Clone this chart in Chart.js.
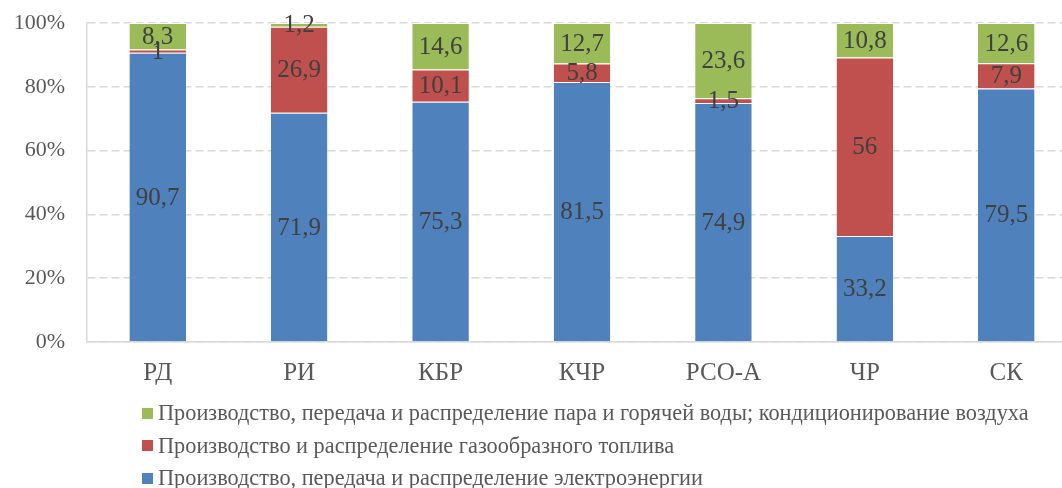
<!DOCTYPE html>
<html><head><meta charset="utf-8">
<script src="https://cdn.jsdelivr.net/npm/chart.js@4.4.0/dist/chart.umd.min.js"></script>
<style>
html,body{margin:0;padding:0;background:#fff;overflow:hidden;width:1062px;height:488px;}
#wrap{position:relative;width:1077px;height:488px;}
#legend{position:absolute;left:142px;top:397px;font-family:"Liberation Serif","Times New Roman",serif;font-size:22.3px;color:#595959;line-height:32.5px;}
#legend .it{display:flex;align-items:center;white-space:nowrap;}
#legend .sw{width:11px;height:11px;margin-right:5px;display:inline-block;}
</style></head>
<body>
<div id="wrap"><canvas id="c" width="1077" height="488"></canvas>
<div id="legend"></div></div>
<script>
const categories = ["РД","РИ","КБР","КЧР","РСО-А","ЧР","СК"];
const electricity = [90.7, 71.9, 75.3, 81.5, 74.9, 33.2, 79.5];
const gas = [1, 26.9, 10.1, 5.8, 1.5, 56, 7.9];
const steam = [8.3, 1.2, 14.6, 12.7, 23.6, 10.8, 12.6];
const seriesNames = [
  "Производство, передача и распределение электроэнергии",
  "Производство и распределение газообразного топлива",
  "Производство, передача и распределение пара и горячей воды; кондиционирование воздуха"
];
const yTicks = ["0%","20%","40%","60%","80%","100%"];
const colors = ["#4f81bd","#c0504d","#9bbb59"];
const FONT = '"Liberation Serif","Times New Roman",serif';

const labelPlugin = {
  id:'segLabels',
  afterDatasetsDraw(chart){
    const ctx = chart.ctx;
    ctx.save();
    ctx.font = '25px ' + FONT;
    ctx.fillStyle = '#404040';
    ctx.textAlign = 'center';
    ctx.textBaseline = 'middle';
    chart.data.datasets.forEach((ds, di) => {
      const meta = chart.getDatasetMeta(di);
      meta.data.forEach((bar, i) => {
        const v = ds.data[i];
        const y = (bar.y + bar.base) / 2;
        ctx.fillText(String(v).replace('.', ','), bar.x, y + 1);
      });
    });
    ctx.restore();
  }
};

const chart = new Chart(document.getElementById('c'), {
  type:'bar',
  data:{
    labels: categories,
    datasets:[
      {label:seriesNames[0], data:electricity, backgroundColor:colors[0]},
      {label:seriesNames[1], data:gas, backgroundColor:colors[1]},
      {label:seriesNames[2], data:steam, backgroundColor:colors[2]}
    ].map(d => Object.assign(d, {borderColor:'#ffffff', borderWidth:{top:1,bottom:0,left:0,right:0}, barPercentage:0.4, categoryPercentage:1}))
  },
  options:{
    responsive:false, animation:false,
    layout:{padding:{top:23, bottom:92, left:0, right:0}},
    plugins:{legend:{display:false}, tooltip:{enabled:false}},
    scales:{
      x:{stacked:true,
        grid:{display:false},
        border:{display:true, color:'#d9d9d9', width:1.5},
        ticks:{color:'#595959', font:{family:FONT, size:25}, padding:8}
      },
      y:{stacked:true, min:0, max:100,
        afterFit(s){ s.width = 87; s.paddingTop = 0; s.paddingBottom = 0; },
        grid:{color:'#d9d9d9', lineWidth:1.5, drawTicks:false},
        border:{display:true, color:'#d9d9d9', width:1.5, dash:[8,4]},
        ticks:{stepSize:20, color:'#595959', font:{family:FONT, size:22}, padding:22,
          callback:(v)=> yTicks[Math.round(v/20)]}
      }
    }
  },
  plugins:[labelPlugin]
});

const lg = document.getElementById('legend');
[2,1,0].forEach(i => {
  const d = document.createElement('div'); d.className='it';
  const s = document.createElement('span'); s.className='sw'; s.style.background = colors[i];
  const t = document.createElement('span'); t.textContent = seriesNames[i];
  d.appendChild(s); d.appendChild(t); lg.appendChild(d);
});
</script>
</body></html>
